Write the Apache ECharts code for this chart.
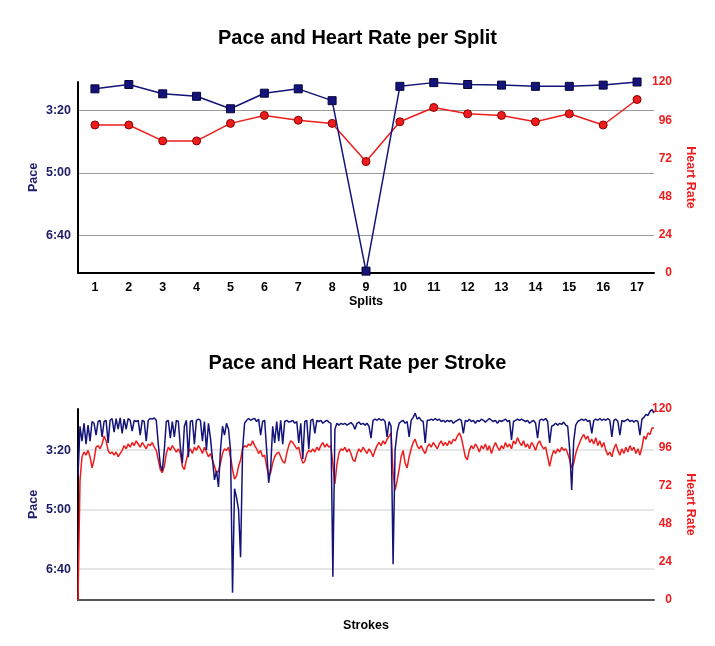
<!DOCTYPE html>
<html>
<head>
<meta charset="utf-8">
<script src="https://cdn.jsdelivr.net/npm/echarts@6/dist/echarts.min.js"></script>
<style>
html,body{margin:0;padding:0;background:#fff;}
#chart{width:715px;height:646px;}
</style>
</head>
<body>
<div id="chart"></div>
<script>
// ---- Data ----
const splitCategories = ['1','2','3','4','5','6','7','8','9','10','11','12','13','14','15','16','17'];
// pace in seconds per split
const splitPace = [165,158,173,177,197,172,165,184,458,161,155,158,159,161,161,159,154];
// heart rate per split
const splitHR = [93,93,83,83,94,99,96,94,70,95,104,100,99,95,100,93,109];

// pace tick values (seconds) shown on left axis
const paceTicks = [200,300,400];
const hrTicks = ['0','24','48','72','96','120'];

// per-stroke pace (seconds)
const strokePace = [
245,160,185,155,190,158,185,152,155,175,
152,150,178,152,150,188,150,147,170,147,
165,146,172,148,165,147,150,168,150,152,
150,175,150,152,185,150,147,148,146,150,
190,225,235,200,152,150,180,152,178,150,
152,195,222,160,150,212,152,150,190,150,
148,150,185,152,200,155,180,215,250,235,
262,200,160,175,155,165,200,440,265,280,
300,380,200,155,150,147,150,148,147,152,
148,175,152,150,200,255,230,160,188,152,
185,150,190,152,150,153,152,150,155,152,
188,155,215,152,150,198,150,148,172,150,
152,150,155,152,150,153,155,413,165,155,
158,155,157,155,158,156,154,157,165,155,
153,157,155,158,155,160,180,150,148,150,
147,150,148,152,178,152,160,392,200,170,
155,152,150,155,152,178,150,145,138,148,
145,150,152,188,150,150,148,150,147,150,
148,152,150,153,150,152,150,155,152,150,
148,150,172,150,152,148,152,150,155,150,
152,148,150,153,150,147,150,152,150,155,
150,152,150,148,152,150,183,152,150,148,
150,148,150,152,150,155,152,150,155,180,
150,148,150,147,152,188,160,158,155,158,
155,157,153,158,160,200,267,185,158,152,
150,148,150,148,152,150,172,150,148,150,
147,150,148,150,147,150,178,150,148,152,
175,150,152,150,148,152,150,153,150,152,
175,148,145,140,142,135,132,138
];
// per-stroke heart rate
const strokeHR = [
0,75,90,93,91,94,90,83,88,96,
97,95,98,103,100,94,92,93,91,93,
90,92,94,97,95,98,96,99,97,100,
98,96,99,97,95,98,97,99,96,94,
88,82,80,84,92,96,94,97,95,93,
95,92,84,82,88,93,95,92,96,94,
97,95,92,96,93,90,92,88,84,80,
81,86,92,95,94,96,90,82,76,78,
84,88,95,97,96,98,97,100,97,95,
92,94,90,91,84,78,80,86,90,92,
93,90,87,86,92,97,100,99,97,95,
96,90,86,87,92,94,93,95,93,96,
94,97,99,96,98,96,97,85,73,85,
92,95,94,96,93,95,92,88,87,92,
95,93,96,94,92,95,93,90,94,97,
99,97,100,98,101,103,105,80,69,75,
82,90,94,86,83,90,95,99,101,97,
95,97,94,92,96,98,96,99,97,95,
98,100,97,99,97,100,98,101,100,103,
105,102,96,90,88,94,97,95,98,96,
93,97,95,98,94,97,92,96,99,96,
94,97,95,99,96,98,95,100,98,102,
99,97,100,96,98,95,99,97,94,98,
100,97,95,96,90,84,90,94,92,95,
93,96,94,95,92,88,83,86,92,96,
99,102,104,101,103,99,101,98,102,97,
100,96,99,94,91,93,90,95,98,94,
91,95,92,96,93,97,94,96,92,95,
91,96,103,101,105,104,108,108
];
const strokeIdx = strokePace.map((_, i) => String(i + 1));

// ---- Styles ----
const NAVY = '#13137a';
const NAVY_TXT = '#1b1b6b';
const RED = '#ee1c1c';
const FONT = '"Liberation Sans", Arial, Helvetica, sans-serif';

function fmtPace(v) {
  const m = Math.floor(v / 60);
  const s = Math.round(v - m * 60);
  return m + ':' + (s < 10 ? '0' + s : s);
}

function paceAxis(gridIndex, min, max, gridColor, gridWidth) {
  return {
    type: 'value', gridIndex: gridIndex, position: 'left', inverse: true,
    min: min, max: max,
    name: 'Pace', nameLocation: 'middle', nameGap: 38, nameRotate: 90, nameMoveOverlap: false,
    nameTextStyle: {color: NAVY_TXT, fontWeight: 'bold', fontSize: 12.5, fontFamily: FONT},
    axisLine: {show: true, lineStyle: {color: '#000', width: 2}},
    axisTick: {show: false, customValues: paceTicks},
    axisLabel: {customValues: paceTicks, formatter: fmtPace, color: NAVY_TXT, fontWeight: 'bold',
      fontSize: 12.5, fontFamily: FONT, margin: 7},
    splitLine: {show: true, lineStyle: {color: gridColor, width: gridWidth}}
  };
}
function hrAxis(gridIndex) {
  return {
    type: 'value', gridIndex: gridIndex, position: 'right',
    min: 0, max: 120, interval: 24,
    name: 'Heart Rate', nameLocation: 'middle', nameGap: 30, nameRotate: -90, nameMoveOverlap: false,
    nameTextStyle: {color: RED, fontWeight: 'bold', fontSize: 12.5, fontFamily: FONT},
    axisLine: {show: false}, axisTick: {show: false},
    axisLabel: {color: RED, fontWeight: 'bold', fontSize: 12, fontFamily: FONT, align: 'right', margin: 18},
    splitLine: {show: false}
  };
}

const chart = echarts.init(document.getElementById('chart'), null, {renderer: 'canvas'});
chart.setOption({
  animation: false,
  backgroundColor: '#fff',
  title: [
    {text: 'Pace and Heart Rate per Split', left: 'center', top: 23,
      textStyle: {fontSize: 20, fontWeight: 'bold', color: '#000', fontFamily: FONT}},
    {text: 'Pace and Heart Rate per Stroke', left: 'center', top: 348,
      textStyle: {fontSize: 20, fontWeight: 'bold', color: '#000', fontFamily: FONT}}
  ],
  grid: [
    {left: 78, right: 61, top: 82, height: 191},
    {left: 78, right: 61, top: 409, height: 191}
  ],
  xAxis: [
    {type: 'category', gridIndex: 0, data: splitCategories, boundaryGap: true,
      name: 'Splits', nameLocation: 'middle', nameGap: 19,
      nameTextStyle: {color: '#000', fontWeight: 'bold', fontSize: 12.5, fontFamily: FONT},
      axisLine: {lineStyle: {color: '#000', width: 2}}, axisTick: {show: false},
      axisLabel: {color: '#000', fontWeight: 'bold', fontSize: 12.5, fontFamily: FONT, margin: 8, interval: 0}},
    {type: 'category', gridIndex: 1, data: strokeIdx, boundaryGap: false,
      name: 'Strokes', nameLocation: 'middle', nameGap: 19,
      nameTextStyle: {color: '#000', fontWeight: 'bold', fontSize: 12.5, fontFamily: FONT},
      axisLine: {lineStyle: {color: '#555', width: 2}}, axisTick: {show: false},
      axisLabel: {show: false}}
  ],
  yAxis: [
    paceAxis(0, 154, 461, '#9a9a9a', 1),
    hrAxis(0),
    paceAxis(1, 131, 452, '#e6e6e6', 2),
    hrAxis(1)
  ],
  series: [
    {type: 'line', name: 'Heart Rate', xAxisIndex: 0, yAxisIndex: 1, data: splitHR,
      symbol: 'circle', symbolSize: 8,
      lineStyle: {color: RED, width: 1.5},
      itemStyle: {color: RED, borderColor: '#8a0000', borderWidth: 1}},
    {type: 'line', name: 'Pace', xAxisIndex: 0, yAxisIndex: 0, data: splitPace,
      symbol: 'rect', symbolSize: 8,
      lineStyle: {color: NAVY, width: 1.5},
      itemStyle: {color: NAVY, borderColor: '#05053a', borderWidth: 1}},
    {type: 'line', name: 'Heart Rate', xAxisIndex: 1, yAxisIndex: 3, data: strokeHR,
      showSymbol: false, symbol: 'none',
      lineStyle: {color: RED, width: 1.5}},
    {type: 'line', name: 'Pace', xAxisIndex: 1, yAxisIndex: 2, data: strokePace,
      showSymbol: false, symbol: 'none',
      lineStyle: {color: NAVY, width: 1.5}}
  ]
});
</script>
</body>
</html>
